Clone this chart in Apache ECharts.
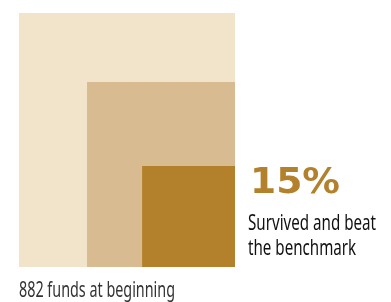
<!DOCTYPE html>
<html>
<head>
<meta charset="utf-8">
<script src="https://cdn.jsdelivr.net/npm/echarts@6/dist/echarts.min.js"></script>
<style>
  html, body { margin: 0; padding: 0; background: #fff; }
  #chart { width: 391px; height: 302px; }
</style>
</head>
<body>
<div id="chart"></div>
<script>
// funds groups, nested boxes (share of the outer box, in %)
var groups = ['All funds', 'Survived', 'Survived and beat the benchmark'];
var boxWidth = [100, 68.5, 43];
var boxHeight = [100, 72.8, 39.8];
var boxColors = ['#f2e4ca', '#d8bb90', '#b3812b'];
var headline = '15%';
var noteLines = ['Survived and beat', 'the benchmark'];
var baseNote = '882 funds at beginning';

var narrowFont = '"Noto Sans", sans-serif';

// squeeze text horizontally to mimic the condensed face of the original
var ctx = document.createElement('canvas').getContext('2d');
function squeeze(text, font, target) {
  ctx.font = font;
  return target / ctx.measureText(text).width;
}

var chart = echarts.init(document.getElementById('chart'));

var noteFont = '22px ' + narrowFont;
var baseFont = '21px ' + narrowFont;
var headFont = 'bold 36px "DejaVu Sans"';
var noteScale = squeeze(noteLines[0], noteFont, 128);
var baseScale = squeeze(baseNote, baseFont, 156);
var headScale = squeeze(headline, headFont, 90);

var option = {
  animation: false,
  grid: { left: 19, right: 156, top: 13, bottom: 35 },
  xAxis: { type: 'value', min: 0, max: 100, show: false },
  yAxis: { type: 'value', min: 0, max: 100, show: false },
  series: [{
    type: 'custom',
    data: groups.map(function (g, i) {
      return { name: g, value: [boxWidth[i], boxHeight[i]] };
    }),
    renderItem: function (params, api) {
      var w = api.value(0);
      var h = api.value(1);
      var p0 = api.coord([100 - w, h]);
      var p1 = api.coord([100, 0]);
      return {
        type: 'rect',
        shape: { x: p0[0], y: p0[1], width: p1[0] - p0[0], height: p1[1] - p0[1] },
        style: { fill: boxColors[params.dataIndex] }
      };
    }
  }],
  graphic: [
    {
      type: 'text', x: 250, y: 166, scaleX: headScale,
      style: { text: headline, fill: '#b3812b', font: headFont }
    },
    {
      type: 'text', x: 248, y: 211, scaleX: noteScale,
      style: { text: noteLines.join('\n'), fill: '#111', lineHeight: 25, font: noteFont }
    },
    {
      type: 'text', x: 19, y: 281, scaleX: baseScale,
      style: { text: baseNote, fill: '#333', font: baseFont }
    }
  ]
};

chart.setOption(option);
</script>
</body>
</html>
